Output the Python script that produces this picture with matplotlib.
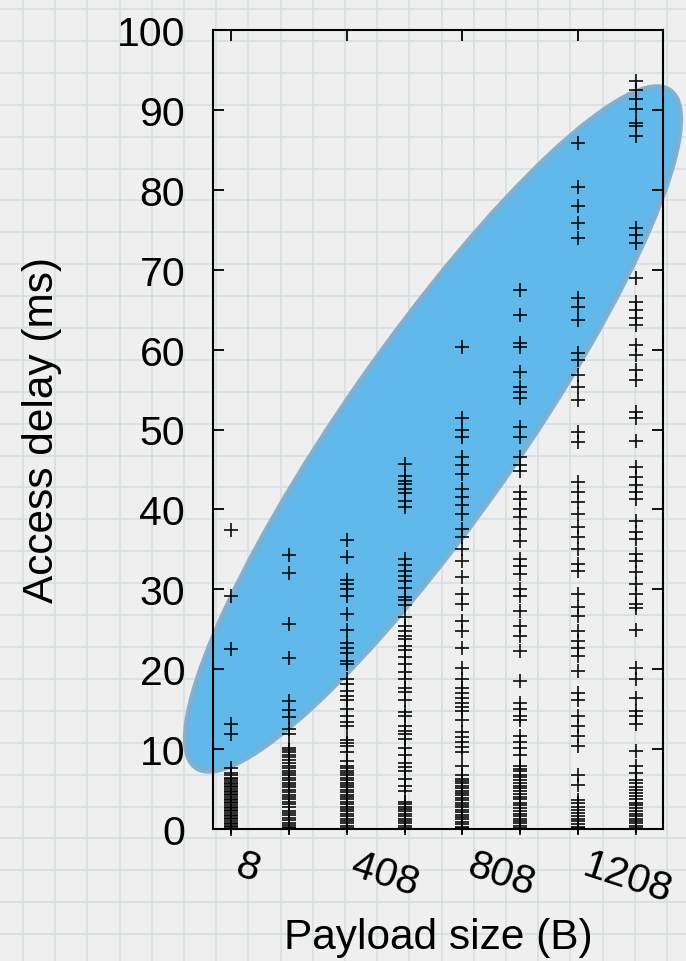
import numpy as np
import matplotlib
matplotlib.use("Agg")
import matplotlib.pyplot as plt
from matplotlib.patches import Ellipse
from matplotlib.lines import Line2D
from matplotlib.transforms import ScaledTranslation

plt.rcParams['font.family'] = ['Liberation Sans', 'DejaVu Sans']

# payload sizes (B) of each column
payload = [8, 208, 408, 608, 808, 1008, 1208, 1408]
tick_vals = [8, 408, 808, 1208]
tick_labels = ['8', '408', '808', '1208']

# access delay samples (ms)
delay_8 = [37.4, 29.2, 22.5, 13.2, 11.9, 7.6, 7.0, 6.7, 6.4, 6.2, 6.0, 5.8, 5.6,
           5.4, 5.2, 5.0, 4.8, 4.6, 4.4, 4.2, 4.0, 3.8, 3.6, 3.4, 3.2, 3.0, 2.8,
           2.6, 2.4, 2.2, 2.0, 1.8, 1.6, 1.4, 1.2, 1.0, 0.8, 0.6, 0.4, 0.2, 0.0]
delay_208 = [34.3, 32.0, 25.6, 21.4, 16.0, 14.9, 14.0, 12.5, 11.9, 10.2, 9.9, 9.6,
             9.3, 9.0, 8.6, 8.2, 7.9, 7.6, 7.3, 7.0, 6.7, 6.4, 6.1, 5.8, 5.5, 5.2,
             4.9, 4.6, 4.3, 4.0, 3.7, 3.4, 3.1, 2.8, 2.3, 2.0, 1.7, 1.4, 1.1, 0.8,
             0.5, 0.3, 0.1]
delay_408 = [36.2, 34.1, 31.2, 30.7, 30.1, 29.1, 26.9, 24.9, 23.3, 22.6, 22.0, 21.0,
             20.6, 18.8, 18.1, 17.3, 16.7, 16.1, 15.0, 14.2, 13.4, 12.9, 11.2, 10.8,
             10.4, 9.6, 8.5, 7.9, 7.6, 7.3, 7.0, 6.7, 6.4, 6.1, 5.8, 5.5, 5.2, 4.9,
             4.6, 4.3, 4.0, 3.7, 3.4, 3.1, 2.8, 2.5, 2.2, 1.9, 1.6, 1.3, 1.0, 0.7,
             0.4, 0.1]
delay_608 = [45.7, 44.2, 43.6, 43.2, 42.5, 42.1, 41.1, 40.3, 33.8, 33.0, 32.3, 31.7,
             31.1, 30.2, 29.0, 28.6, 28.0, 26.5, 25.4, 24.8, 24.2, 23.8, 22.9, 22.4,
             21.5, 20.6, 19.6, 18.8, 17.7, 17.2, 16.1, 14.6, 14.2, 12.9, 12.3, 11.9,
             11.3, 10.2, 9.2, 8.3, 7.7, 7.3, 6.3, 5.4, 4.8, 3.4, 3.1, 2.8, 2.5, 2.2,
             1.9, 1.6, 1.3, 1.0, 0.7, 0.4, 0.1]
delay_808 = [60.3, 51.5, 50.0, 49.0, 46.6, 45.6, 44.4, 42.5, 41.6, 40.6, 39.4, 37.5,
             36.6, 35.0, 33.5, 31.6, 29.4, 28.2, 26.0, 24.8, 22.6, 20.1, 18.8, 17.6,
             17.0, 16.4, 15.8, 15.3, 14.8, 13.6, 12.1, 11.5, 10.9, 10.3, 9.6, 7.9,
             6.7, 6.3, 6.0, 5.7, 5.4, 5.1, 4.8, 4.5, 4.2, 3.9, 3.6, 3.3, 3.0, 2.7,
             2.4, 2.1, 1.8, 1.5, 1.2, 0.9, 0.6, 0.3, 0.1]
delay_1008 = [67.4, 64.3, 60.8, 60.3, 57.2, 55.3, 54.7, 54.0, 50.3, 49.0, 46.6, 45.6,
              44.8, 42.2, 41.3, 40.0, 39.1, 37.5, 36.0, 33.8, 32.9, 31.9, 30.1, 29.1,
              27.3, 25.4, 24.2, 22.3, 18.5, 15.8, 15.0, 14.2, 13.6, 11.7, 10.9, 10.1,
              9.2, 7.9, 7.5, 7.2, 6.8, 6.5, 6.1, 5.8, 5.4, 5.1, 4.7, 4.4, 4.0, 3.7,
              3.3, 3.0, 2.6, 2.3, 1.9, 1.6, 1.3, 1.0, 0.7, 0.4, 0.1]
delay_1208 = [85.9, 80.3, 78.0, 75.8, 74.0, 66.5, 65.3, 63.7, 59.6, 58.7, 56.8, 55.3,
              53.7, 49.7, 48.4, 43.4, 42.2, 40.9, 39.4, 37.8, 36.6, 35.0, 33.2, 32.3,
              29.4, 27.8, 26.6, 24.8, 23.5, 22.6, 21.7, 19.8, 17.0, 16.1, 14.2, 12.9,
              11.7, 10.4, 6.7, 5.5, 3.6, 3.2, 2.8, 2.4, 2.0, 1.6, 1.3, 1.0, 0.6,
              0.3, 0.1]
delay_1408 = [93.6, 92.5, 91.4, 90.1, 88.4, 88.0, 86.7, 75.2, 74.3, 73.3, 69.0, 65.9,
              64.9, 64.0, 63.1, 60.6, 59.3, 57.5, 56.2, 52.2, 51.5, 48.6, 45.3, 44.1,
              43.1, 42.2, 41.3, 38.5, 37.2, 36.3, 34.4, 33.5, 32.2, 30.7, 29.4, 28.2,
              27.6, 24.9, 20.1, 18.8, 16.4, 14.8, 14.2, 13.2, 9.8, 7.9, 7.0, 6.1, 5.7,
              5.3, 4.9, 4.5, 4.1, 3.7, 3.3, 3.0, 2.6, 2.3, 1.9, 1.6, 1.3, 1.0, 0.7,
              0.4, 0.1]
delays = [delay_8, delay_208, delay_408, delay_608,
          delay_808, delay_1008, delay_1208, delay_1408]

W, H, DPI = 686, 962, 100
fig = plt.figure(figsize=(W / DPI, H / DPI), dpi=DPI, facecolor='#efefef')

# graph paper background (decoration, pixel coords from the top-left)
px = fig.dpi_scale_trans
for gx in np.arange(23, W, 32.2):
    fig.add_artist(Line2D([gx / DPI, gx / DPI], [0, H / DPI], transform=px,
                          color='#d6dfe3', lw=1.2, zorder=-5))
for gy in np.arange(10, H, 31.9):
    yy = (H - gy) / DPI
    fig.add_artist(Line2D([0, W / DPI], [yy, yy], transform=px,
                          color='#d6dfe3', lw=1.2, zorder=-5))

ax = fig.add_axes([213 / W, 1 - 830 / H, 450 / W, 799 / H])
ax.set_facecolor('none')

# highlight ellipse, placed in inches on the figure
ell = Ellipse((433 / DPI, (H - 430) / DPI), 826 / DPI, 174 / DPI, angle=55,
              transform=px, facecolor='#58b6ea', edgecolor='#7aafd3',
              lw=4, alpha=0.95, clip_on=False, zorder=1.2)
ax.add_patch(ell)

for xv, ys in zip(payload, delays):
    ax.plot([xv] * len(ys), ys, linestyle='none', marker='+', ms=10.5, mew=1.2,
            color='black', alpha=0.95, clip_on=False, zorder=2)

ax.set_xlim(-54.2, 1501)
ax.set_ylim(0, 100)
ax.set_yticks(np.arange(0, 101, 10))
ax.set_xticks(tick_vals)
ax.set_xticklabels(tick_labels, rotation=-18, ha='left', va='top')
for lab in ax.get_xticklabels():
    lab.set_transform(lab.get_transform() + ScaledTranslation(8 / DPI, 0, px))

ax.tick_params(axis='both', direction='in', length=8, width=1.3, labelsize=29.5,
               top=True, right=True)
ax.tick_params(axis='y', pad=20)
ax.tick_params(axis='x', pad=12)
for sp in ax.spines.values():
    sp.set_linewidth(1.5)

ax.set_ylabel('Access delay (ms)', fontsize=30.5)
ax.set_xlabel('Payload size (B)', fontsize=30.5)
ax.yaxis.set_label_coords(-0.335, 0.5)
ax.xaxis.set_label_coords(0.5, -0.11)

fig.savefig('out.png', dpi=DPI, facecolor=fig.get_facecolor())
